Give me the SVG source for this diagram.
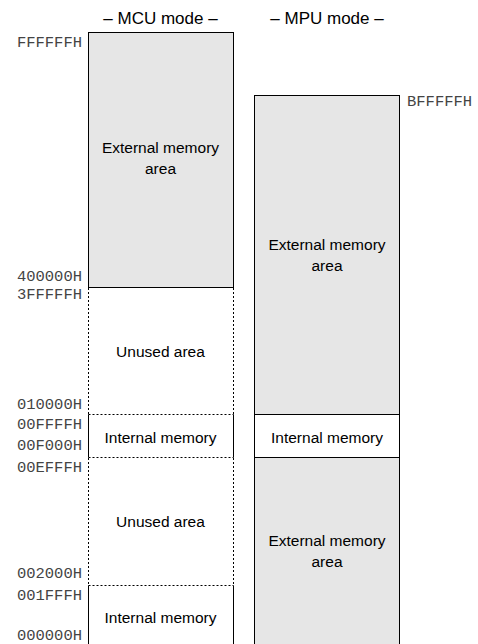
<svg xmlns="http://www.w3.org/2000/svg" width="478" height="644" viewBox="0 0 478 644">
<style>
.addr{font-family:"Liberation Mono",monospace;font-size:15.5px;fill:#444}
.lbl{font-family:"Liberation Sans",Arial,sans-serif;font-size:15.5px;fill:#000;text-anchor:middle}
.ttl{font-family:"Liberation Sans",Arial,sans-serif;font-size:17px;fill:#000;text-anchor:middle}
.ext{fill:#e6e6e6;stroke:#000;stroke-width:1}
.int{fill:#fff;stroke:#000;stroke-width:1}
.dot{fill:none;stroke:#000;stroke-width:1;stroke-dasharray:2,2}
</style>
<rect width="478" height="644" fill="#fff"/>
<text class="ttl" x="160.5" y="24">– MCU mode –</text>
<text class="ttl" x="327" y="24">– MPU mode –</text>
<g id="mcu-ext">
<rect class="ext" x="88.5" y="32.5" width="145" height="255"/>
<text class="lbl" x="160.5" y="153">External memory</text>
<text class="lbl" x="160.5" y="174">area</text>
</g>
<g id="mcu-unused1">
<line class="dot" x1="88.5" y1="288" x2="88.5" y2="414"/>
<line class="dot" x1="233.5" y1="288" x2="233.5" y2="414"/>
<text class="lbl" x="160.5" y="357">Unused area</text>
</g>
<g id="mcu-int1">
<line class="dot" x1="88.5" y1="414.5" x2="233.5" y2="414.5"/>
<line class="dot" x1="88.5" y1="457.5" x2="233.5" y2="457.5"/>
<line stroke="#000" x1="88.5" y1="414.5" x2="88.5" y2="457.5"/>
<line stroke="#000" x1="233.5" y1="414.5" x2="233.5" y2="457.5"/>
<text class="lbl" x="160.5" y="442.5">Internal memory</text>
</g>
<g id="mcu-unused2">
<line class="dot" x1="88.5" y1="458" x2="88.5" y2="585"/>
<line class="dot" x1="233.5" y1="458" x2="233.5" y2="585"/>
<text class="lbl" x="160.5" y="527">Unused area</text>
</g>
<g id="mcu-int2">
<line class="dot" x1="88.5" y1="585.5" x2="233.5" y2="585.5"/>
<line stroke="#000" x1="88.5" y1="585.5" x2="88.5" y2="644"/>
<line stroke="#000" x1="233.5" y1="585.5" x2="233.5" y2="644"/>
<text class="lbl" x="160.5" y="623">Internal memory</text>
</g>
<g id="mpu-ext1">
<rect class="ext" x="254.5" y="95.5" width="145" height="319" stroke="#333"/>
<text class="lbl" x="327" y="250">External memory</text>
<text class="lbl" x="327" y="271">area</text>
</g>
<g id="mpu-int">
<rect class="int" x="254.5" y="414.5" width="145" height="43"/>
<text class="lbl" x="327" y="442.5">Internal memory</text>
</g>
<g id="mpu-ext2">
<rect class="ext" x="254.5" y="457.5" width="145" height="190"/>
<text class="lbl" x="327" y="546">External memory</text>
<text class="lbl" x="327" y="567">area</text>
</g>
<g id="addresses" text-anchor="end">
<text class="addr" x="82" y="47">FFFFFFH</text>
<text class="addr" x="82" y="281">400000H</text>
<text class="addr" x="82" y="299">3FFFFFH</text>
<text class="addr" x="82" y="409">010000H</text>
<text class="addr" x="82" y="429">00FFFFH</text>
<text class="addr" x="82" y="450">00F000H</text>
<text class="addr" x="82" y="472">00EFFFH</text>
<text class="addr" x="82" y="578">002000H</text>
<text class="addr" x="82" y="600">001FFFH</text>
<text class="addr" x="82" y="640">000000H</text>
<text class="addr" x="407" y="106" text-anchor="start">BFFFFFH</text>
</g>
</svg>
